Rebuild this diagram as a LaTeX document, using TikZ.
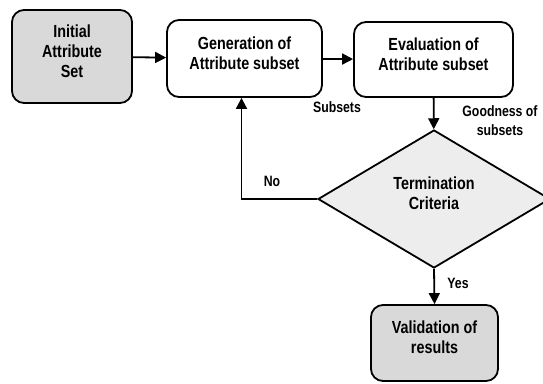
\documentclass[tikz,border=0pt]{standalone}
\usepackage{fontspec}
\newfontfamily\dgfont[FakeStretch=0.82]{Liberation Sans}
\usetikzlibrary{arrows.meta,shapes.geometric}
\definecolor{boxgray}{HTML}{D9D9D9}
\definecolor{diagray}{HTML}{EDEDED}
\begin{document}
\begin{tikzpicture}[x=1pt,y=-1pt,
  every node/.style={font=\dgfont\bfseries},
  procbox/.style={draw, line width=1.8pt, rounded corners=12pt, inner sep=0pt},
  boxtext/.style={align=center, font=\dgfont\bfseries\fontsize{17.5}{20}\selectfont, inner sep=0pt},
  flowlabel/.style={align=center, font=\dgfont\bfseries\fontsize{15}{19}\selectfont, inner sep=0pt},
  decision/.style={draw, diamond, line width=1.8pt, fill=diagray, inner sep=0pt,
    minimum width=232pt, minimum height=138pt},
  flow/.style={line width=1.8pt, -{Triangle[length=11pt,width=11pt]}}]
\useasboundingbox (0,0) rectangle (543,383);

% process boxes
\node[procbox, fill=boxgray, minimum width=120pt, minimum height=93pt] (init) at (72,56.5) {};
\node[procbox, minimum width=155pt, minimum height=77pt] (gen) at (244.5,58.5) {};
\node[procbox, minimum width=159pt, minimum height=75pt] (eval) at (433.5,59.5) {};
\node[procbox, fill=boxgray, minimum width=127pt, minimum height=76pt] (valid) at (434.5,343) {};
\node[decision] (term) at (434,199) {};

% box texts
\node[boxtext] (initT) at ([yshift=5pt]init.center) {Initial\\Attribute\\Set};
\node[boxtext] (genT) at ([yshift=5pt]gen.center) {Generation of\\Attribute subset};
\node[boxtext] (evalT) at ([yshift=5pt]eval.center) {Evaluation of\\Attribute subset};
\node[boxtext] (validT) at ([yshift=6pt]valid.center) {Validation of\\results};
\node[boxtext] (termT) at ([yshift=6pt]term.center) {Termination\\Criteria};

% connectors
\draw[flow] (init) -- (gen);
\draw[flow] (gen) -- (eval);
\draw[flow] (eval) -- (term);
\draw[flow] (term.west) -| ([xshift=-3pt]gen.south);
\draw[flow] (term.south) -- (valid.north);

% connector labels
\node[flowlabel] (lsub) at (337,107) {Subsets};
\node[flowlabel] (lgood) at (500,121) {Goodness of\\subsets};
\node[flowlabel] (lno) at (272,181) {No};
\node[flowlabel] (lyes) at (458,283) {Yes};
\end{tikzpicture}
\end{document}
